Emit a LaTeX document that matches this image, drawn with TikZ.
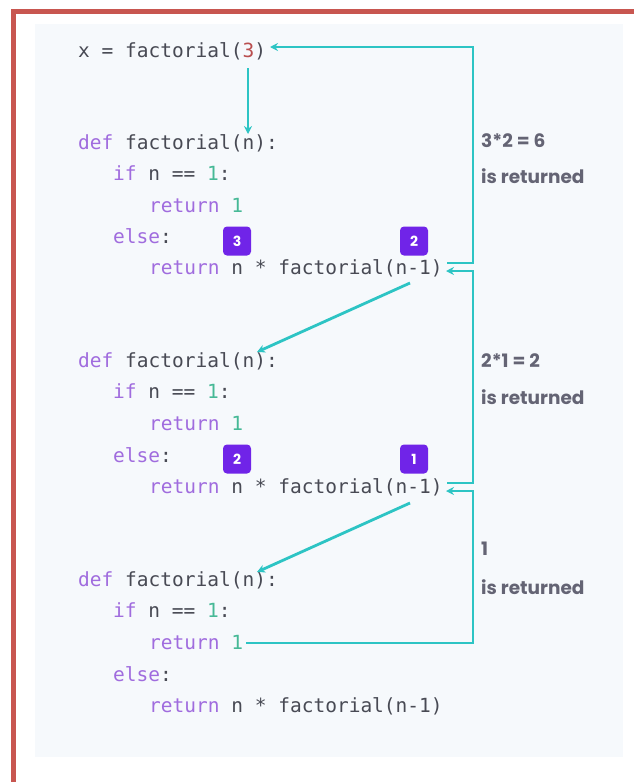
\documentclass[tikz,border=0pt]{standalone}
\usepackage{fontspec}
\setmonofont{DejaVu Sans Mono}
\newfontfamily\labelfont{Poppins}
\usetikzlibrary{arrows.meta}
\definecolor{codegray}{RGB}{72,74,84}
\definecolor{kwpurple}{RGB}{160,108,222}
\definecolor{numgreen}{RGB}{70,185,150}
\definecolor{argred}{RGB}{185,78,78}
\definecolor{teal}{RGB}{45,196,196}
\definecolor{badgepurple}{RGB}{112,36,232}
\definecolor{labelgray}{RGB}{100,100,116}
\definecolor{panel}{RGB}{246,249,252}
\definecolor{borderred}{RGB}{200,86,80}
\newcommand{\kw}[1]{\textcolor{kwpurple}{#1}}
\newcommand{\nm}[1]{\textcolor{numgreen}{#1}}
\tikzset{
  code/.style={anchor=base west, inner sep=0pt, text=codegray,
    font=\ttfamily\fontsize{19.5}{24}\selectfont},
  badge/.style={fill=badgepurple, rounded corners=4pt, minimum width=28pt,
    minimum height=29pt, inner sep=0pt, text=white,
    font=\labelfont\bfseries\fontsize{14}{14}\selectfont},
  lbl/.style={anchor=west, inner sep=0pt, text=labelgray,
    font=\labelfont\bfseries\fontsize{18.5}{20}\selectfont},
  conn/.style={draw=teal, line width=2.8pt},
  arr/.style={conn, -{Stealth[length=8pt,width=8pt]}}
}
\begin{document}
\begin{tikzpicture}[x=1pt,y=-1pt]
\useasboundingbox (0,0) rectangle (634,782);
% frame and panel
\fill[panel] (35,24) rectangle (623,757);
\draw[borderred, line width=5pt] (13.5,782) -- (13.5,11) -- (634,11);

% top call
\node[code] (call) at (78,57) {x = factorial(\textcolor{argred}{3})};

% block 1
\node[code] (d1) at (78,149) {\kw{def} factorial(n):};
\node[code] (i1) at (113,180) {\kw{if} n == \nm{1}:};
\node[code] (o1) at (149,212) {\kw{return} \nm{1}};
\node[code] (e1) at (113,243) {\kw{else}:};
\node[code] (r1) at (149,274) {\kw{return} n * factorial(n-1)};
\node[badge] (b13) at (237,241) {3};
\node[badge] (b12) at (414,241) {2};

% block 2
\node[code] (d2) at (78,367) {\kw{def} factorial(n):};
\node[code] (i2) at (113,398) {\kw{if} n == \nm{1}:};
\node[code] (o2) at (149,430) {\kw{return} \nm{1}};
\node[code] (e2) at (113,462) {\kw{else}:};
\node[code] (r2) at (149,493) {\kw{return} n * factorial(n-1)};
\node[badge] (b22) at (237,459) {2};
\node[badge] (b21) at (414,459) {1};

% block 3
\node[code] (d3) at (78,586) {\kw{def} factorial(n):};
\node[code] (i3) at (113,617) {\kw{if} n == \nm{1}:};
\node[code] (o3) at (149,649) {\kw{return} \nm{1}};
\node[code] (e3) at (113,681) {\kw{else}:};
\node[code] (r3) at (149,712) {\kw{return} n * factorial(n-1)};

% labels
\node[lbl] (l1a) at (481,141) {3*2 = 6};
\node[lbl] (l1b) at (481,176) {is returned};
\node[lbl] (l2a) at (481,361) {2*1 = 2};
\node[lbl] (l2b) at (481,397) {is returned};
\node[lbl] (l3a) at (481,549) {1};
\node[lbl] (l3b) at (481,587) {is returned};

% connector points
\coordinate (c0s) at (248,68);
\coordinate (c0e) at (248,134);
\coordinate (ret3) at (270,47);
\coordinate (r1a) at (447,263);
\coordinate (r1b) at (446,271);
\coordinate (r2a) at (447,483);
\coordinate (r2b) at (446,491);
\coordinate (o3a) at (246,643);
\coordinate (s1) at (410,283);
\coordinate (t1) at (257,352);
\coordinate (s2) at (410,503);
\coordinate (t2) at (257,572);

% calls
\draw[arr] (c0s) -- (c0e);
\draw[arr] (s1) -- (t1);
\draw[arr] (s2) -- (t2);

% returns
\draw[arr] (r1a) -- (473,263) -- (473,47) -- (ret3);
\draw[arr] (r2a) -- (473,483) -- (473,271) -- (r1b);
\draw[arr] (o3a) -- (473,643) -- (473,491) -- (r2b);
\end{tikzpicture}
\end{document}
